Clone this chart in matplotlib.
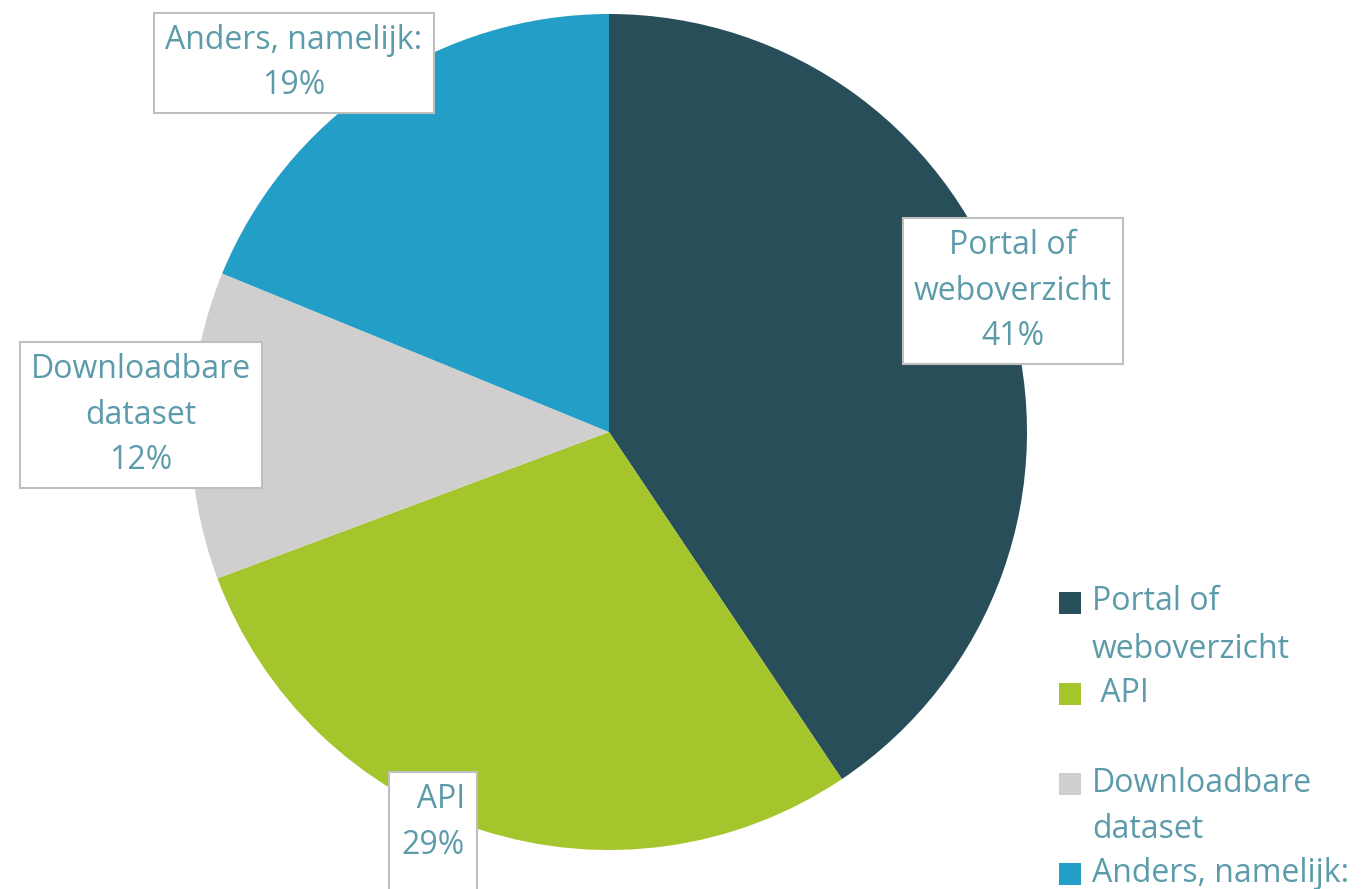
import matplotlib.pyplot as plt
from matplotlib.patches import Rectangle

plt.rcParams['font.family'] = ['Open Sans', 'DejaVu Sans']

categories = ["Portal of\nweboverzicht", "API", "Downloadbare\ndataset", "Anders, namelijk:"]
shares = [41, 29, 12, 19]
legend_labels = ["Portal of\nweboverzicht", " API", "Downloadbare\ndataset", "Anders, namelijk:"]
colors = ["#284E5A", "#A4C52B", "#D0CECE", "#239EC7"]
text_color = "#5B9BAA"

W, H = 1366, 889
fig = plt.figure(figsize=(W / 100, H / 100), dpi=100)

# pie axes: centre (609, 432) px, radius 418 px
cx, cy, r = 609, 432, 418
ax = fig.add_axes([(cx - r) / W, (H - cy - r) / H, 2 * r / W, 2 * r / H])
ax.pie(shares, colors=colors, startangle=90, counterclock=False,
       wedgeprops=dict(linewidth=0))
ax.set_xlim(-1, 1)
ax.set_ylim(-1, 1)
ax.set_aspect("equal")
ax.axis("off")

FS = 23
LS = 1.5

# data label boxes (centre positions in pixels)
label_pos = [(1013, 291), (433, 845), (141, 415), (294, 63)]
box = dict(boxstyle="square,pad=0.35", fc="white", ec="#BFBFBF", lw=1.5)
for cat, val, (px, py) in zip(categories, shares, label_pos):
    txt = f"{cat}\n{val}%"
    if cat == "API":
        txt = "  API\n29%\n"
    fig.text(px / W, 1 - py / H, txt, ha="center", va="center",
             fontsize=FS, color=text_color, linespacing=LS, bbox=box)

# legend drawn by hand, one text per line
leg_y = [603, 694, 784, 874]
for lab, col, y in zip(legend_labels, colors, leg_y):
    fig.patches.append(Rectangle((1059 / W, 1 - (y + 11) / H), 22 / W, 22 / H,
                                 transform=fig.transFigure, fc=col, ec="none"))
    for i, line in enumerate(lab.split("\n")):
        fig.text(1092 / W, 1 - (y - 1 + i * 47) / H, line, ha="left",
                 va="center", fontsize=FS, color=text_color)

fig.savefig("out.png", dpi=100)
